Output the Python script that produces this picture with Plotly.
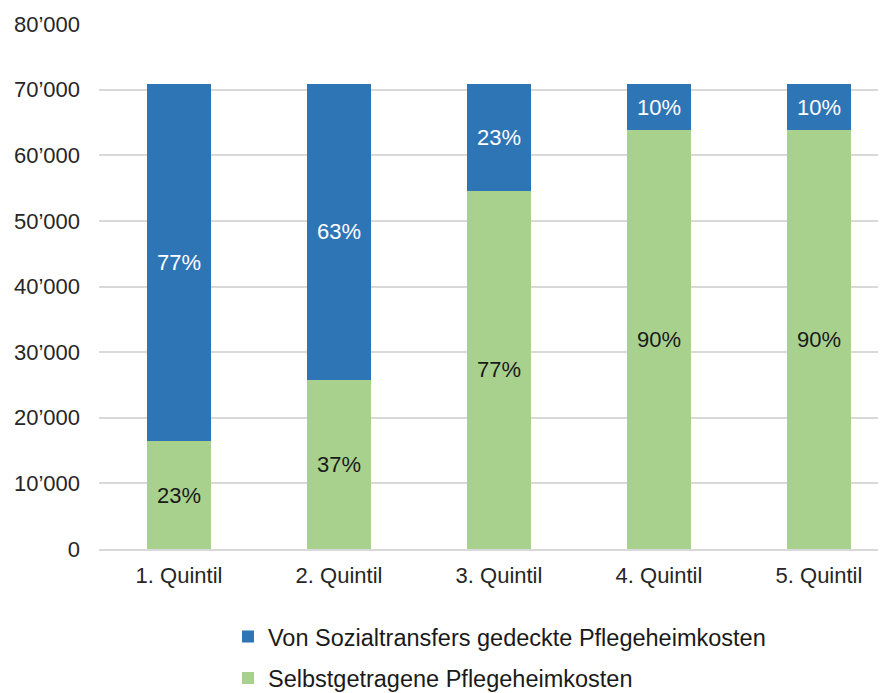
import plotly.graph_objects as go

categories = ["1. Quintil", "2. Quintil", "3. Quintil", "4. Quintil", "5. Quintil"]
selbst_values = [16400, 25800, 54600, 63800, 63800]
sozial_values = [54500, 45100, 16300, 7100, 7100]
selbst_labels = ["23%", "37%", "77%", "90%", "90%"]
sozial_labels = ["77%", "63%", "23%", "10%", "10%"]
y_tickvals = [0, 10000, 20000, 30000, 40000, 50000, 60000, 70000, 80000]
y_ticktext = ["0", "10’000", "20’000", "30’000", "40’000", "50’000", "60’000", "70’000", "80’000"]

FONT = "Liberation Sans, Arial, sans-serif"

fig = go.Figure()
fig.add_trace(go.Bar(
    x=categories, y=selbst_values, name="Selbstgetragene Pflegeheimkosten",
    marker=dict(color="#A9D18E", line=dict(width=0)),
    text=selbst_labels, textposition="inside", insidetextanchor="middle",
    textfont=dict(color="#1a1a1a", size=22, family=FONT),
    constraintext="none", legendgroup="g", legendrank=2, hoverinfo="skip",
))
fig.add_trace(go.Bar(
    x=categories, y=sozial_values, name="Von Sozialtransfers gedeckte Pflegeheimkosten",
    marker=dict(color="#2E75B6", line=dict(width=0)),
    text=sozial_labels, textposition="inside", insidetextanchor="middle",
    textfont=dict(color="white", size=22, family=FONT),
    constraintext="none", legendgroup="s", legendrank=1, hoverinfo="skip",
))

fig.update_layout(
    width=886, height=693,
    margin=dict(l=91, r=8, t=16, b=152, autoexpand=False),
    barmode="stack", bargap=0.6,
    plot_bgcolor="white", paper_bgcolor="white",
    font=dict(family=FONT, size=22, color="#262626"),
    xaxis=dict(
        range=[-0.5, 4.419], showgrid=False, showline=True,
        linecolor="#d9d9d9", linewidth=1.5, ticks="", ticklabelstandoff=6,
        tickfont=dict(size=22, color="#262626"), fixedrange=True, automargin=False,
    ),
    yaxis=dict(
        range=[0, 80000], tickvals=y_tickvals, ticktext=y_ticktext,
        showgrid=True, gridcolor="#d9d9d9", gridwidth=1.5, zeroline=False,
        showline=False, ticks="", ticklabelstandoff=18, automargin=False,
        tickfont=dict(size=22, color="#262626"), fixedrange=True,
    ),
    legend=dict(
        orientation="v", xref="container", yref="container",
        x=0.2483, xanchor="left", y=0.1245, yanchor="top",
        traceorder="grouped", tracegroupgap=8,
        font=dict(size=23.5, color="#1a1a1a", family=FONT),
        bgcolor="rgba(0,0,0,0)",
    ),
    showlegend=True,
)

fig.write_html("out.html")
